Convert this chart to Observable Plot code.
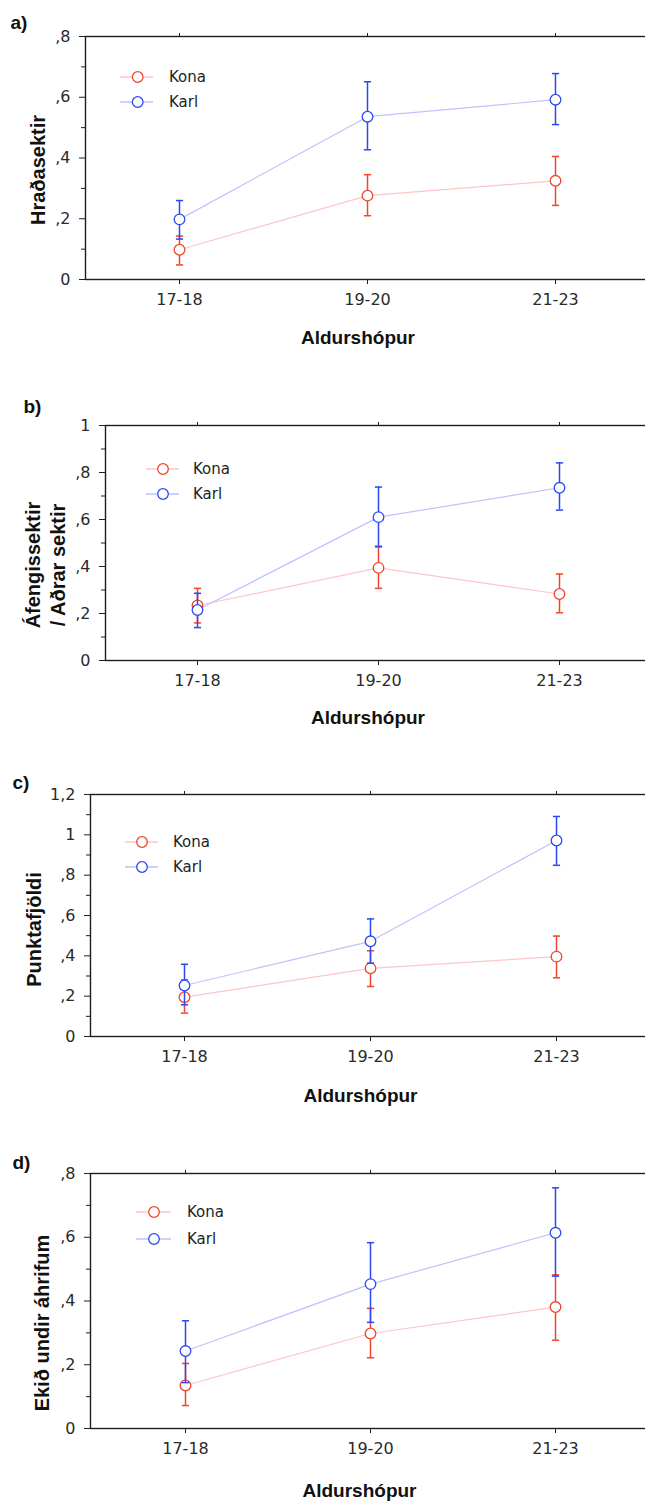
<!DOCTYPE html>
<html>
<head>
<meta charset="utf-8">
<script src="https://cdn.jsdelivr.net/npm/d3@7"></script>
<script src="https://cdn.jsdelivr.net/npm/@observablehq/plot@0.6"></script>
<style>
  html, body { margin: 0; padding: 0; background: #fff; overflow: hidden; }
  #charts > div { display: block; line-height: 0; }
  svg { display: block; }
</style>
</head>
<body>
<div id="charts"></div>
<script>
// Age groups and sexes
const categories = ["17-18", "19-20", "21-23"];
const sexes = ["Kona", "Karl"];

// a) Hraðasektir — means and interval bounds
const aKonaMean = [0.098, 0.276, 0.325];
const aKonaLow  = [0.048, 0.210, 0.244];
const aKonaHigh = [0.143, 0.345, 0.405];
const aKarlMean = [0.198, 0.536, 0.592];
const aKarlLow  = [0.133, 0.427, 0.510];
const aKarlHigh = [0.260, 0.651, 0.678];

// b) Áfengissektir / Aðrar sektir
const bKonaMean = [0.234, 0.394, 0.283];
const bKonaLow  = [0.160, 0.307, 0.203];
const bKonaHigh = [0.307, 0.483, 0.368];
const bKarlMean = [0.215, 0.610, 0.735];
const bKarlLow  = [0.140, 0.486, 0.640];
const bKarlHigh = [0.286, 0.738, 0.841];

// c) Punktafjöldi
const cKonaMean = [0.195, 0.338, 0.396];
const cKonaLow  = [0.116, 0.248, 0.291];
const cKonaHigh = [0.281, 0.425, 0.498];
const cKarlMean = [0.253, 0.472, 0.972];
const cKarlLow  = [0.157, 0.364, 0.849];
const cKarlHigh = [0.358, 0.583, 1.091];

// d) Ekið undir áhrifum
const dKonaMean = [0.135, 0.298, 0.381];
const dKonaLow  = [0.072, 0.222, 0.277];
const dKonaHigh = [0.204, 0.377, 0.482];
const dKarlMean = [0.243, 0.453, 0.614];
const dKarlLow  = [0.144, 0.333, 0.478];
const dKarlHigh = [0.338, 0.583, 0.755];

// Y tick values
const ticks08 = [0, 0.2, 0.4, 0.6, 0.8];
const minor08 = [0.1, 0.3, 0.5, 0.7];
const ticks10 = [0, 0.2, 0.4, 0.6, 0.8, 1];
const minor10 = [0.1, 0.3, 0.5, 0.7, 0.9];
const ticks12 = [0, 0.2, 0.4, 0.6, 0.8, 1, 1.2];
const minor12 = [0.1, 0.3, 0.5, 0.7, 0.9, 1.1];

const xTitle = "Aldurshópur";

// Icelandic-style decimal labels: ",8", "1", "1,2"
const fmt = v => v === 0 ? "0" : d3.format(".1~f")(v).replace(/^0\./, ",").replace(".", ",");

const markColor = {Kona: "#f2452b", Karl: "#2b49f2"};
const lineColor = {Kona: "#ffc6c6", Karl: "#bcc2ff"};
const tickFont = "DejaVu Sans, Verdana, sans-serif";
const titleFont = "Liberation Sans, Arial, Helvetica, sans-serif";

// Horizontal cap drawn at the ends of each interval
const capSymbol = {draw(context) { context.moveTo(-3.6, 0); context.lineTo(3.6, 0); }};

const panels = [
  {tag: "a)", yTitle: "Hraðasektir", height: 370, mt: 36, mb: 91, ml: 85, xRange: [85.4, 649.4],
   yDomain: [0, 0.8], major: ticks08, minor: minor08,
   Kona: [aKonaMean, aKonaLow, aKonaHigh], Karl: [aKarlMean, aKarlLow, aKarlHigh],
   tagOff: [-75, -14], yTitleOff: [-49, 12], xTitleOff: [-9, 58],
   legend: {x1: 35, x2: 68, cx: 52.7, tx: 84, ys: [41, 66]}},
  {tag: "b)", yTitle: "Áfengissektir\n/ Aðrar sektir", height: 370, mt: 55, mb: 80, ml: 105, xRange: [105.6, 651.2],
   yDomain: [0, 1], major: ticks10, minor: minor10,
   Kona: [bKonaMean, bKonaLow, bKonaHigh], Karl: [bKarlMean, bKarlLow, bKarlHigh],
   tagOff: [-82, -19], yTitleOff: [-61, 22], xTitleOff: [-9, 57],
   legend: {x1: 41, x2: 74, cx: 58, tx: 88, ys: [44, 69]}},
  {tag: "c)", yTitle: "Punktafjöldi", height: 375, mt: 54, mb: 79, ml: 90, xRange: [90.2, 650.2],
   yDomain: [0, 1.2], major: ticks12, minor: minor12,
   Kona: [cKonaMean, cKonaLow, cKonaHigh], Karl: [cKarlMean, cKarlLow, cKarlHigh],
   tagOff: [-78, -12], yTitleOff: [-58, 14], xTitleOff: [-9, 59],
   legend: {x1: 35, x2: 68, cx: 52, tx: 83, ys: [48, 73]}},
  {tag: "d)", yTitle: "Ekið undir áhrifum", height: 386, mt: 58, mb: 73, ml: 90, xRange: [91, 648],
   yDomain: [0, 0.8], major: ticks08, minor: minor08,
   Kona: [dKonaMean, dKonaLow, dKonaHigh], Karl: [dKarlMean, dKarlLow, dKarlHigh],
   tagOff: [-78, -11], yTitleOff: [-50, 22], xTitleOff: [-10, 62],
   legend: {x1: 46, x2: 81, cx: 64, tx: 97, ys: [39, 66]}}
];

function seriesMarks(rows, sex) {
  const data = rows.filter(d => d.sex === sex);
  return [
    Plot.ruleX(data, {x: "group", y1: "low", y2: "high", stroke: markColor[sex], strokeWidth: 1.5}),
    Plot.dot(data, {x: "group", y: "low", symbol: capSymbol, r: 4, fill: "none", stroke: markColor[sex], strokeWidth: 1.5}),
    Plot.dot(data, {x: "group", y: "high", symbol: capSymbol, r: 4, fill: "none", stroke: markColor[sex], strokeWidth: 1.5}),
    Plot.dot(data, {x: "group", y: "mean", r: 5.3, stroke: markColor[sex], fill: "white", strokeWidth: 1.3})
  ];
}

function drawPanel(p) {
  const rows = [];
  for (const sex of sexes) {
    const [mean, low, high] = p[sex];
    categories.forEach((g, i) => rows.push({group: g, sex, mean: mean[i], low: low[i], high: high[i]}));
  }
  const svg = Plot.plot({
    width: 645,
    height: p.height,
    marginTop: p.mt,
    marginBottom: p.mb,
    marginLeft: p.ml,
    marginRight: -3,
    style: {background: "white", color: "#1e1e1e", fontFamily: tickFont, fontSize: "16px"},
    x: {type: "point", domain: categories, range: p.xRange, padding: 0.5},
    y: {domain: p.yDomain},
    marks: [
      Plot.frame({stroke: "#1e1e1e", strokeWidth: 1.4}),
      Plot.axisY({ticks: p.major, tickFormat: fmt, tickSize: 6, tickPadding: 9, label: null, fontSize: 16, fill: "#2a2a2a"}),
      Plot.axisY({ticks: p.minor, tickFormat: () => "", tickSize: 4, label: null}),
      Plot.axisX({anchor: "bottom", tickSize: 5, tickPadding: 9, label: null, fontSize: 16, fill: "#2a2a2a"}),
      Plot.axisX({anchor: "top", tickSize: 4, tickFormat: () => "", label: null}),
      Plot.line(rows.filter(d => d.sex === "Kona"), {x: "group", y: "mean", stroke: lineColor.Kona, strokeWidth: 1.2}),
      Plot.line(rows.filter(d => d.sex === "Karl"), {x: "group", y: "mean", stroke: lineColor.Karl, strokeWidth: 1.2}),
      ...seriesMarks(rows, "Kona"),
      ...seriesMarks(rows, "Karl"),
      Plot.text([p.tag], {text: d => d, frameAnchor: "top-left", textAnchor: "start", lineAnchor: "middle",
        dx: p.tagOff[0], dy: p.tagOff[1], fontWeight: "bold", fontSize: 19, fontFamily: titleFont, fill: "#111"}),
      Plot.text([p.yTitle], {text: d => d, frameAnchor: "left", textAnchor: "middle", lineAnchor: "middle", rotate: -90,
        dx: p.yTitleOff[0], dy: p.yTitleOff[1], fontWeight: "bold", fontSize: 20, lineHeight: 1.25, fontFamily: titleFont, fill: "#111"}),
      Plot.text([xTitle], {text: d => d, frameAnchor: "bottom", textAnchor: "middle", lineAnchor: "middle",
        dx: p.xTitleOff[0], dy: p.xTitleOff[1], fontWeight: "bold", fontSize: 19, fontFamily: titleFont, fill: "#111"})
    ]
  });

  // Legend: line-with-marker swatches inside the plot area, top-left
  const L = p.legend;
  const g = d3.select(svg).append("g").attr("transform", `translate(${p.ml},${p.mt})`);
  sexes.forEach((sex, i) => {
    const y = L.ys[i];
    g.append("line").attr("x1", L.x1).attr("x2", L.x2).attr("y1", y).attr("y2", y)
      .attr("stroke", lineColor[sex]).attr("stroke-width", 1.3);
    g.append("circle").attr("cx", L.cx).attr("cy", y).attr("r", 5.3)
      .attr("fill", "white").attr("stroke", markColor[sex]).attr("stroke-width", 1.3);
    g.append("text").attr("x", L.tx).attr("y", y).attr("dy", "0.35em").attr("text-anchor", "start")
      .attr("font-family", tickFont).attr("font-size", 15).attr("fill", "#1e1e1e").text(sex);
  });

  const wrap = document.createElement("div");
  wrap.appendChild(svg);
  document.getElementById("charts").appendChild(wrap);
}

panels.forEach(drawPanel);
</script>
</body>
</html>
